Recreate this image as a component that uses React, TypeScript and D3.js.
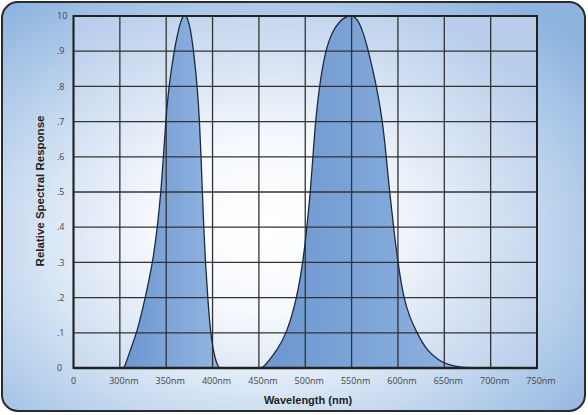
import React from "react";
import * as d3 from "d3";

const xTickValues = [250, 300, 350, 400, 450, 500, 550, 600, 650, 700, 750];
const xTickLabels = ["0", "300nm", "350nm", "400nm", "450nm", "500nm", "550nm", "600nm", "650nm", "700nm", "750nm"];
const yTickValues = [0, 0.1, 0.2, 0.3, 0.4, 0.5, 0.6, 0.7, 0.8, 0.9, 1.0];
const yTickLabels = ["0", ".1", ".2", ".3", ".4", ".5", ".6", ".7", ".8", ".9", "10"];

const uvWavelength = [303, 305, 311, 318.5, 327.5, 335.5, 340.5, 344.3, 347, 349.5, 352.8, 358.5, 363, 367, 370, 373, 376.5, 380, 383.5, 386, 387.6, 389, 390.5, 392.3, 394.8, 397.8, 400.8, 404, 407, 409];
const uvResponse = [0, 0, 0.05, 0.1, 0.2, 0.3, 0.4, 0.5, 0.6, 0.7, 0.8, 0.9, 0.96, 0.995, 1.005, 0.995, 0.96, 0.89, 0.8, 0.7, 0.6, 0.5, 0.4, 0.3, 0.2, 0.1, 0.05, 0.015, 0, 0];

const visWavelength = [451, 454, 460.5, 469.5, 480.3, 491.1, 497.5, 501.8, 505.5, 508.3, 511, 515.2, 521.5, 529, 537, 544, 550, 556, 562, 568.3, 577, 583.5, 587.4, 591, 595.3, 599.9, 606, 612.5, 620.4, 631, 643.8, 655, 668, 685, 700];
const visResponse = [0, 0, 0.02, 0.05, 0.1, 0.2, 0.3, 0.4, 0.5, 0.6, 0.7, 0.8, 0.9, 0.955, 0.985, 0.998, 1.003, 0.993, 0.958, 0.9, 0.8, 0.7, 0.6, 0.5, 0.4, 0.3, 0.2, 0.145, 0.1, 0.05, 0.022, 0.008, 0.002, 0, 0];

const W = 588;
const H = 415;
const left = 73.5;
const right = 537;
const top = 16;
const bottom = 368;

export default function App() {
  const x = d3.scaleLinear().domain([250, 750]).range([left, right]);
  const y = d3.scaleLinear().domain([0, 1]).range([bottom, top]);

  const curve = d3
    .line<[number, number]>()
    .x((d) => x(d[0]))
    .y((d) => y(d[1]))
    .curve(d3.curveBasis);

  const uvPts: [number, number][] = uvWavelength.map((w, i) => [w, uvResponse[i]]);
  const visPts: [number, number][] = visWavelength.map((w, i) => [w, visResponse[i]]);
  const uvPath = curve(uvPts) || "";
  const visPath = curve(visPts) || "";

  const fontNum = "'Open Sans', 'Liberation Sans', sans-serif";
  const fontTitle = "'Liberation Sans', Arial, sans-serif";

  return (
    <svg width={W} height={H} style={{ position: "absolute", left: 0, top: 0 }}>
      <defs>
        <radialGradient id="panelGrad" cx="0.45" cy="0.58" r="0.72">
          <stop offset="0" stopColor="#ffffff" />
          <stop offset="0.45" stopColor="#e3edf8" />
          <stop offset="1" stopColor="#8db3df" />
        </radialGradient>
        <radialGradient id="plotGrad" cx="0.42" cy="0.6" r="0.7">
          <stop offset="0" stopColor="#ffffff" />
          <stop offset="0.35" stopColor="#f6f9fd" />
          <stop offset="1" stopColor="#b7cdea" />
        </radialGradient>
        <linearGradient id="fillGrad" x1="0" y1="0" x2="1" y2="0">
          <stop offset="0" stopColor="#6c96cf" />
          <stop offset="1" stopColor="#93b6e2" />
        </linearGradient>
        <clipPath id="plotClip">
          <rect x={left} y={top} width={right - left} height={bottom - top} />
        </clipPath>
      </defs>
      <rect x={0} y={0} width={W} height={H} fill="#ffffff" />
      <rect x={2} y={2} width={583} height={409} rx={16} ry={16} fill="url(#panelGrad)" stroke="#2b2b2b" strokeWidth={2} />
      <rect x={left} y={top} width={right - left} height={bottom - top} fill="url(#plotGrad)" />
      <g clipPath="url(#plotClip)">
        <path d={uvPath + "Z"} fill="url(#fillGrad)" stroke="none" />
        <path d={visPath + "Z"} fill="url(#fillGrad)" stroke="none" />
      </g>
      {yTickValues.map((v) => (
        <line key={"gy" + v} x1={left} x2={right} y1={y(v)} y2={y(v)} stroke="#333" strokeWidth={1.3} />
      ))}
      {xTickValues.map((v) => (
        <line key={"gx" + v} x1={x(v)} x2={x(v)} y1={top} y2={bottom} stroke="#333" strokeWidth={1.3} />
      ))}
      <g clipPath="url(#plotClip)">
        <path d={uvPath} fill="none" stroke="#1c2a3c" strokeWidth={1.3} />
        <path d={visPath} fill="none" stroke="#1c2a3c" strokeWidth={1.3} />
      </g>
      <rect x={left} y={top} width={right - left} height={bottom - top} fill="none" stroke="#222" strokeWidth={2} />
      <line x1={left} x2={right} y1={bottom} y2={bottom} stroke="#222" strokeWidth={2.5} />
      {yTickValues.map((v, i) => (
        <text key={"ty" + v} x={57} y={y(v)} dy="0.35em" fontSize={9} fontFamily={fontNum} fill="#444">
          {yTickLabels[i]}
        </text>
      ))}
      {xTickValues.map((v, i) => (
        <text key={"tx" + v} x={x(v) + (i === 0 ? 0 : 4)} y={384} textAnchor="middle" fontSize={9} fontFamily={fontNum} fill="#444">
          {xTickLabels[i]}
        </text>
      ))}
      <text x={308} y={404} textAnchor="middle" fontSize={11} fontWeight="bold" fontFamily={fontTitle} fill="#222">
        Wavelength (nm)
      </text>
      <text transform={`translate(44,191) rotate(-90)`} textAnchor="middle" fontSize={11.5} fontWeight="bold" fontFamily={fontTitle} fill="#222">
        Relative Spectral Response
      </text>
    </svg>
  );
}
